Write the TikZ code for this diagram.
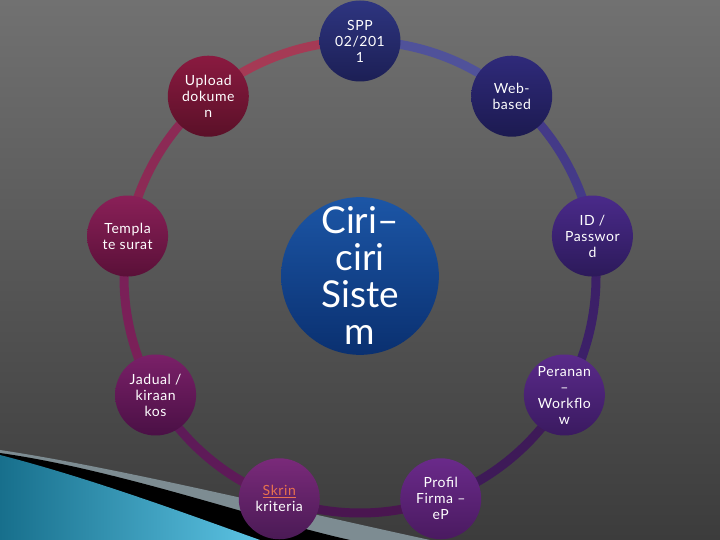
\documentclass[tikz,border=0pt]{standalone}
\usepackage{fontspec}
\setmainfont{Lato}
\usetikzlibrary{calc,backgrounds}

\definecolor{bgtop}{HTML}{717171}
\definecolor{bgbot}{HTML}{3C3C3C}
\definecolor{swgray}{HTML}{7D8C92}
\definecolor{swdark}{HTML}{176F8C}
\definecolor{swlight}{HTML}{5CC3E3}
\definecolor{skrinlink}{HTML}{E8714F}

\begin{document}
\begin{tikzpicture}[
  x=1pt,y=1pt,
  sat/.style={circle,minimum size=81pt,inner sep=0pt,align=center,text=white,
    font=\fontsize{14}{16}\selectfont\addfontfeatures{LetterSpace=4}},
  hubnode/.style={circle,minimum size=154pt,inner sep=0pt,align=center,text=white,
    font=\fontsize{37}{37}\selectfont},
  ring/.style={line width=9pt}
]
\useasboundingbox (0,0) rectangle (720,540);
\coordinate (c) at (360,263);

% satellites, clockwise from the top
\node[sat,top color={rgb,255:red,46;green,53;blue,128},bottom color={rgb,255:red,28;green,31;blue,85}]
  (spp) at ($(c)+(90:236)$) {SPP\\02/201\\1};
\node[sat,top color={rgb,255:red,47;green,42;blue,122},bottom color={rgb,255:red,28;green,26;blue,80}]
  (web) at ($(c)+(50:236)$) {Web-\\based};
\node[sat,top color={rgb,255:red,74;green,42;blue,138},bottom color={rgb,255:red,44;green,26;blue,90}]
  (id) at ($(c)+(10:236)$) {ID /\\Passwor\\d};
\node[sat,top color={rgb,255:red,90;green,42;blue,138},bottom color={rgb,255:red,58;green,26;blue,96}]
  (peranan) at ($(c)+(-30:236)$) {Peranan\\–\\Workflo\\w};
\node[sat,top color={rgb,255:red,106;green,42;blue,138},bottom color={rgb,255:red,74;green,26;blue,96}]
  (profil) at ($(c)+(-70:236)$) {Profil\\Firma –\\eP};
\node[sat,top color={rgb,255:red,122;green,42;blue,122},bottom color={rgb,255:red,74;green,26;blue,85}]
  (skrin) at ($(c)+(-110:236)$) {\textcolor{skrinlink}{\underline{Skrin}}\\kriteria};
\node[sat,top color={rgb,255:red,122;green,32;blue,104},bottom color={rgb,255:red,74;green,16;blue,69}]
  (jadual) at ($(c)+(-150:236)$) {Jadual /\\kiraan\\kos};
\node[sat,top color={rgb,255:red,138;green,32;blue,88},bottom color={rgb,255:red,90;green,16;blue,56}]
  (templa) at ($(c)+(170:236)$) {Templa\\te surat};
\node[sat,top color={rgb,255:red,138;green,26;blue,64},bottom color={rgb,255:red,90;green,16;blue,40}]
  (upload) at ($(c)+(130:236)$) {Upload\\dokume\\n};

% centre
\node[hubnode,top color={rgb,255:red,28;green,86;blue,166},bottom color={rgb,255:red,10;green,48;blue,112}]
  (ciri) at (360,264) {Ciri–\\ciri\\Siste\\m};

\begin{pgfonlayer}{background}
  \shade[top color=bgtop,bottom color=bgbot] (0,0) rectangle (720,540);
  % corner swoosh
  \fill[swgray] (0,90) .. controls (120,72) and (300,28) .. (430,0) -- (0,0) -- cycle;
  \fill[black] (0,87) .. controls (120,70) and (260,20) .. (350,0) -- (0,0) -- cycle;
  \shade[left color=swdark,right color=swlight] (0,85) .. controls (90,62) and (190,25) .. (260,0) -- (0,0) -- cycle;
  % ring
  \draw[ring,draw={rgb,255:red,165;green,58;blue,85}] (spp.center) arc[start angle=90,end angle=130,radius=236];
  \draw[ring,draw={rgb,255:red,140;green,42;blue,85}] (upload.center) arc[start angle=130,end angle=170,radius=236];
  \draw[ring,draw={rgb,255:red,122;green,32;blue,88}] (templa.center) arc[start angle=170,end angle=210,radius=236];
  \draw[ring,draw={rgb,255:red,94;green,26;blue,88}] (jadual.center) arc[start angle=210,end angle=250,radius=236];
  \draw[ring,draw={rgb,255:red,74;green,22;blue,80}] (skrin.center) arc[start angle=250,end angle=290,radius=236];
  \draw[ring,draw={rgb,255:red,62;green,26;blue,88}] (profil.center) arc[start angle=290,end angle=330,radius=236];
  \draw[ring,draw={rgb,255:red,60;green,32;blue,104}] (peranan.center) arc[start angle=330,end angle=370,radius=236];
  \draw[ring,draw={rgb,255:red,68;green,58;blue,136}] (id.center) arc[start angle=10,end angle=50,radius=236];
  \draw[ring,draw={rgb,255:red,80;green,82;blue,154}] (web.center) arc[start angle=50,end angle=90,radius=236];
\end{pgfonlayer}
\end{tikzpicture}
\end{document}
